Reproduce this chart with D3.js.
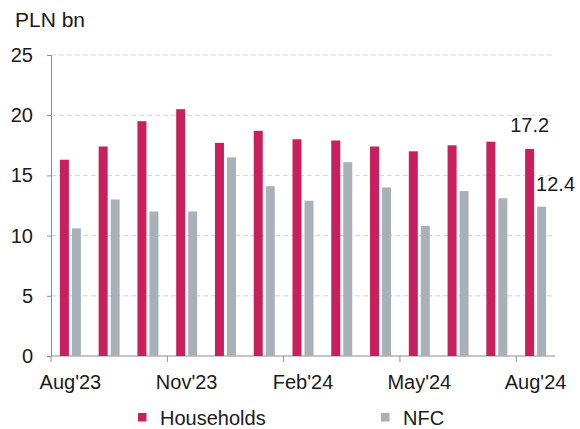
<!DOCTYPE html>
<html>
<head>
<meta charset="utf-8">
<script src="https://cdn.jsdelivr.net/npm/d3@7"></script>
<style>
  body { margin: 0; background: #fff; }
  text { font-family: "Liberation Sans", Arial, sans-serif; fill: #1a1a1a; }
</style>
</head>
<body>
<div id="chart"></div>
<script>
// data
var months = ["Aug'23","Sep'23","Oct'23","Nov'23","Dec'23","Jan'24","Feb'24",
              "Mar'24","Apr'24","May'24","Jun'24","Jul'24","Aug'24"];
var households = [16.3, 17.4, 19.5, 20.5, 17.7, 18.7, 18.0, 17.9, 17.4, 17.0, 17.5, 17.8, 17.2];
var nfc = [10.6, 13.0, 12.0, 12.0, 16.5, 14.1, 12.9, 16.1, 14.0, 10.8, 13.7, 13.1, 12.4];
var seriesNames = ["Households", "NFC"];
var yTicks = [0, 5, 10, 15, 20, 25];
var shownMonths = ["Aug'23","Nov'23","Feb'24","May'24","Aug'24"];

var colors = {Households: "#c81f5d", NFC: "#a9b1b8"};

const w = 580,
      h = 429;
var margin = {left: 51, right: 25, top: 55, bottom: 73};

var svg = d3.select("#chart").append("svg")
    .attr("width", w)
    .attr("height", h);

var x0 = d3.scaleBand()
    .domain(months)
    .range([margin.left, w - margin.right]);

var bw = x0.bandwidth();
var x1 = d3.scaleBand()
    .domain(seriesNames)
    .range([bw / 2 - 10.5, bw / 2 + 10.5])
    .paddingInner(0.25);

var y = d3.scaleLinear()
    .domain([0, 25])
    .range([h - margin.bottom, margin.top]);

// title
svg.append("text")
    .attr("x", 15)
    .attr("y", 27)
    .style("font-size", "21px")
    .text("PLN bn");

// grid lines
svg.selectAll(".grid")
    .data(yTicks.filter(function(d) { return d > 0; }))
    .enter()
    .append("line")
    .attr("x1", margin.left)
    .attr("x2", w - margin.right)
    .attr("y1", function(d) { return y(d); })
    .attr("y2", function(d) { return y(d); })
    .style("stroke", "#d6d6d6")
    .style("stroke-width", "1px")
    .style("stroke-dasharray", "5,3");

// y axis
var yAxis = svg.append("g")
    .attr("transform", "translate(" + margin.left + ",0)")
    .call(d3.axisLeft(y).tickValues(yTicks).tickSize(4).tickPadding(14));
yAxis.select(".domain").style("stroke", "#8c8c8c");
yAxis.selectAll(".tick line").style("stroke", "#8c8c8c");
yAxis.selectAll("text")
    .style("font-size", "20px")
    .style("font-family", "Liberation Sans, Arial, sans-serif")
    .attr("fill", "#1a1a1a");

// x axis: ticks on band edges, labels on band centres
var xg = svg.append("g")
    .attr("transform", "translate(0," + y(0) + ")");
xg.append("line")
    .attr("x1", margin.left)
    .attr("x2", w - margin.right)
    .style("stroke", "#8c8c8c");
xg.selectAll(".xtick")
    .data(months.filter(function(d, i) { return i % 3 === 0; }))
    .enter()
    .append("line")
    .attr("x1", function(d) { return x0(d); })
    .attr("x2", function(d) { return x0(d); })
    .attr("y1", 0)
    .attr("y2", 6)
    .style("stroke", "#8c8c8c");
xg.selectAll(".xlabel")
    .data(shownMonths)
    .enter()
    .append("text")
    .attr("x", function(d) { return x0(d) + bw / 2; })
    .attr("y", 33)
    .attr("text-anchor", "middle")
    .style("font-size", "20px")
    .text(function(d) { return d; });

// bars
var rows = months.map(function(m, i) {
    return {month: m, Households: households[i], NFC: nfc[i]};
});

var groups = svg.selectAll(".grp")
    .data(rows)
    .enter()
    .append("g")
    .attr("transform", function(d) { return "translate(" + x0(d.month) + ",0)"; });

groups.selectAll("rect")
    .data(function(d) { return seriesNames.map(function(s) { return {key: s, value: d[s]}; }); })
    .enter()
    .append("rect")
    .attr("x", function(d) { return x1(d.key); })
    .attr("width", x1.bandwidth())
    .attr("y", function(d) { return y(d.value); })
    .attr("height", function(d) { return y(0) - y(d.value); })
    .style("fill", function(d) { return colors[d.key]; });

// labels on the last month
var last = months.length - 1;
svg.append("text")
    .attr("x", x0(months[last]) + x1("Households") + x1.bandwidth() / 2)
    .attr("y", y(households[last]) - 17)
    .attr("text-anchor", "middle")
    .style("font-size", "20px")
    .text(households[last].toFixed(1));
svg.append("text")
    .attr("x", x0(months[last]) + x1("NFC") - 1)
    .attr("y", y(nfc[last]) - 16)
    .style("font-size", "20px")
    .text(nfc[last].toFixed(1));

// legend
var legendX = [138, 381];
var legend = svg.selectAll(".legend")
    .data(seriesNames)
    .enter()
    .append("g")
    .attr("transform", function(d, i) { return "translate(" + legendX[i] + ",413)"; });
legend.append("rect")
    .attr("width", 8.5)
    .attr("height", 8.5)
    .style("fill", function(d) { return colors[d]; });
legend.append("text")
    .attr("x", 22)
    .attr("y", 11.5)
    .style("font-size", "20px")
    .text(function(d) { return d; });
</script>
</body>
</html>
